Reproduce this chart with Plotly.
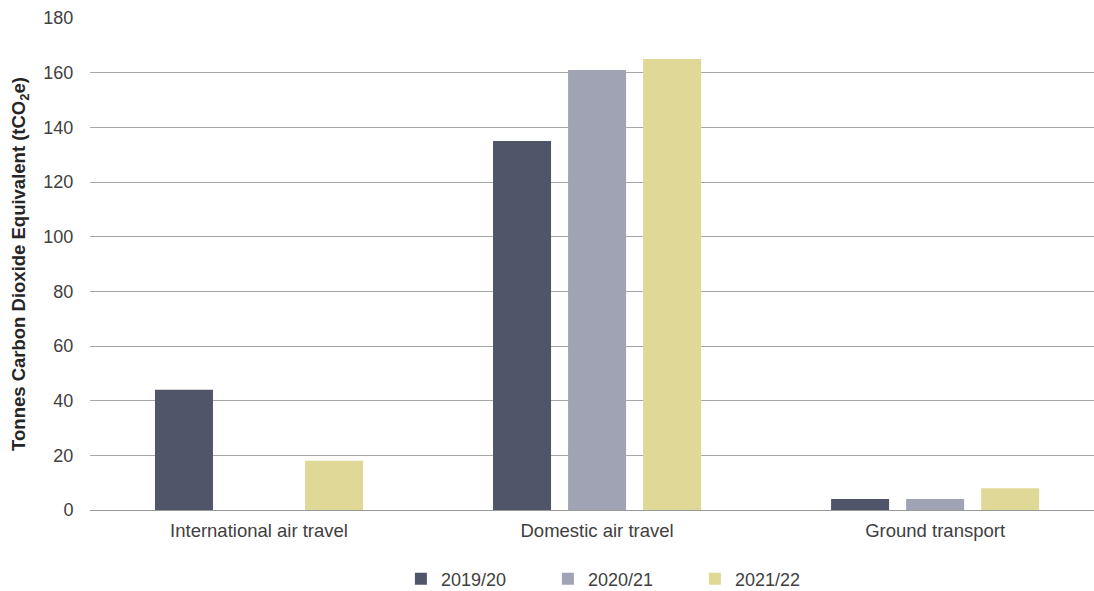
import plotly.graph_objects as go

categories = ["International air travel", "Domestic air travel", "Ground transport"]
series_names = ["2019/20", "2020/21", "2021/22"]
values_2019_20 = [44, 135, 4]
values_2020_21 = [0, 161, 4]
values_2021_22 = [18, 165, 8]
colors = ["#505569", "#A0A3B3", "#E0D896"]
y_ticks = [0, 20, 40, 60, 80, 100, 120, 140, 160, 180]

fig = go.Figure()
for name, vals, col in zip(series_names, [values_2019_20, values_2020_21, values_2021_22], colors):
    fig.add_trace(go.Bar(name=name, x=categories, y=vals, marker=dict(color=col, line=dict(width=0))))

font_family = "Liberation Sans"
fig.update_layout(
    width=1094, height=591,
    barmode="group", bargap=0.334, bargroupgap=0.227,
    plot_bgcolor="white", paper_bgcolor="white",
    margin=dict(l=90, r=0, t=18, b=81),
    font=dict(family=font_family, size=18, color="#404040"),
    legend=dict(orientation="h", xref="container", yref="container", x=0.568, y=0.0203,
                xanchor="center", yanchor="middle", font=dict(size=18, color="#404040"),
                entrywidth=102, itemwidth=30, borderwidth=0),
    xaxis=dict(range=[-0.5, 2.47], showgrid=False, showline=False, ticks="",
               ticklabelstandoff=7,
               tickfont=dict(size=18.5, color="#404040")),
    yaxis=dict(range=[0, 180], tickvals=y_ticks, showgrid=True, gridcolor="#A6A6A6", gridwidth=1,
               zeroline=True, zerolinecolor="#999999", zerolinewidth=1,
               ticks="outside", ticklen=12, tickcolor="rgba(0,0,0,0)",
               tickfont=dict(size=18, color="#404040"),
               title=dict(text="<b>Tonnes Carbon Dioxide Equivalent (tCO<sub>2</sub>e)</b>",
                          font=dict(size=18.5, color="#262626"), standoff=12)),
)
fig.write_html("out.html")
